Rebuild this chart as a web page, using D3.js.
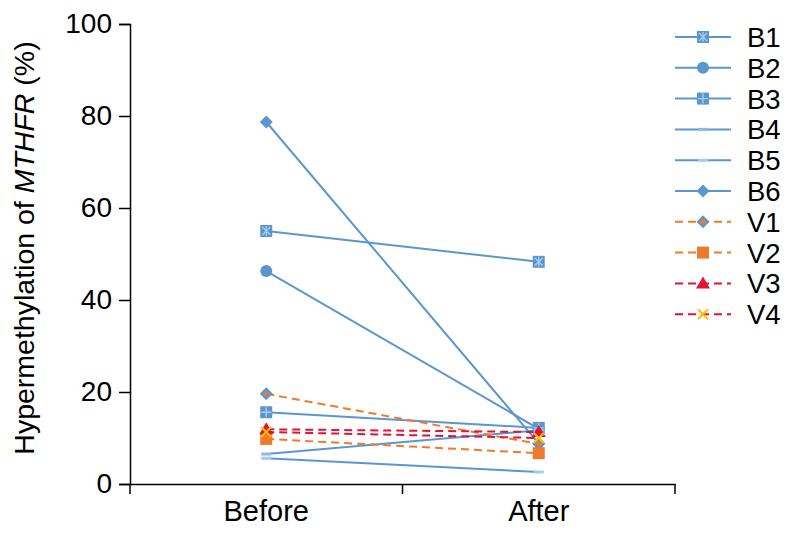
<!DOCTYPE html>
<html><head><meta charset="utf-8">
<script src="https://cdn.jsdelivr.net/npm/d3@7"></script>
<style>body{margin:0;background:#fff}svg{display:block}text{font-family:"Liberation Sans",Arial,sans-serif}</style>
</head><body><svg id="c" width="796" height="539"></svg>
<script>
const categories = ["Before", "After"];
const seriesNames = ["B1","B2","B3","B4","B5","B6","V1","V2","V3","V4"];
const beforeValues = [55.0, 46.3, 15.6, 6.5, 5.6, 78.7, 19.6, 9.8, 11.9, 11.3];
const afterValues  = [48.3, 12.0, 12.2, 11.7, 2.6, 8.8, 8.7, 6.7, 11.3, 10.0];
const yTicks = [0, 20, 40, 60, 80, 100];

const BLUE = "#5b97cf", ORANGE = "#ee7b2c", RED = "#df1436", YELLOW = "#ffc000";
const style = {
  B1:{color:BLUE, dash:null, marker:"sqx"},
  B2:{color:BLUE, dash:null, marker:"circle"},
  B3:{color:BLUE, dash:null, marker:"sqplus"},
  B4:{color:BLUE, dash:null, marker:"dash"},
  B5:{color:BLUE, dash:null, marker:"dash2"},
  B6:{color:BLUE, dash:null, marker:"diamond"},
  V1:{color:ORANGE, dash:"8,5", marker:"diamond2"},
  V2:{color:ORANGE, dash:"8,5", marker:"square"},
  V3:{color:RED, dash:"8,5", marker:"triangle"},
  V4:{color:RED, dash:"8,5", marker:"x"}
};

const svg = d3.select("#c");
const x = d3.scaleBand().domain(categories).range([130, 675]);
const y = d3.scaleLinear().domain([0, 100]).range([484, 24]);

// axes
const yAxis = svg.append("g").attr("transform","translate(130,0)")
  .call(d3.axisLeft(y).tickValues(yTicks).tickSize(11).tickPadding(7));
yAxis.selectAll("text").attr("font-size", 28).attr("fill","#000")
  .attr("font-family", '"Liberation Sans",Arial,sans-serif');
yAxis.select(".domain").attr("stroke","#000").attr("stroke-width",1.5);
yAxis.selectAll(".tick line").attr("stroke","#000").attr("stroke-width",1.5);

const xAxis = svg.append("g").attr("transform","translate(0,484)")
  .call(d3.axisBottom(x).tickSize(0).tickPadding(16).tickSizeOuter(0));
xAxis.selectAll("text").attr("font-size", 29).attr("fill","#000")
  .attr("font-family", '"Liberation Sans",Arial,sans-serif');
xAxis.select(".domain").attr("stroke","#000").attr("stroke-width",1.5);
// band separator ticks
const seps = [x.range()[0], x(categories[1]), x.range()[1]];
svg.append("g").selectAll("line").data(seps).join("line")
  .attr("x1",d=>d).attr("x2",d=>d).attr("y1",484).attr("y2",494)
  .attr("stroke","#000").attr("stroke-width",1.5);

// y label
svg.append("text").attr("transform","translate(34,248) rotate(-90)")
  .attr("text-anchor","middle").attr("font-size",28.5).attr("fill","#000")
  .call(t=>{
    t.append("tspan").text("Hypermethylation of ");
    t.append("tspan").attr("font-style","italic").text("MTHFR");
    t.append("tspan").text(" (%)");
  });

function drawMarker(g, type, cx, cy, color) {
  const s = 6;
  if (type === "sqx" || type === "sqplus" || type === "square") {
    g.append("rect").attr("x",cx-s).attr("y",cy-s).attr("width",2*s).attr("height",2*s)
      .attr("fill", type==="square"?ORANGE:color);
    if (type === "sqx") {
      const c = "#a9cdee";
      g.append("path").attr("d",`M${cx-4},${cy-4}L${cx+4},${cy+4}M${cx+4},${cy-4}L${cx-4},${cy+4}M${cx},${cy-5}L${cx},${cy+5}`)
        .attr("stroke",c).attr("stroke-width",1.3);
    }
    if (type === "sqplus") {
      g.append("path").attr("d",`M${cx-5},${cy}L${cx+5},${cy}M${cx},${cy-5}L${cx},${cy+5}`)
        .attr("stroke","#a9cdee").attr("stroke-width",1.4);
    }
  } else if (type === "circle") {
    g.append("circle").attr("cx",cx).attr("cy",cy).attr("r",6).attr("fill",color);
  } else if (type === "dash") {
    g.append("rect").attr("x",cx-5).attr("y",cy-1.5).attr("width",10).attr("height",3).attr("fill","#8dbbe6");
  } else if (type === "dash2") {
    g.append("rect").attr("x",cx-5).attr("y",cy-1.5).attr("width",10).attr("height",3).attr("fill","#a6cbee");
  } else if (type === "diamond" || type === "diamond2") {
    g.append("path").attr("d",`M${cx},${cy-6.5}L${cx+6.5},${cy}L${cx},${cy+6.5}L${cx-6.5},${cy}Z`).attr("fill",BLUE);
    if (type === "diamond2") g.append("circle").attr("cx",cx).attr("cy",cy).attr("r",2.6).attr("fill",ORANGE);
  } else if (type === "triangle") {
    g.append("path").attr("d",`M${cx},${cy-7}L${cx+7},${cy+5}L${cx-7},${cy+5}Z`).attr("fill",RED);
  } else if (type === "x") {
    g.append("path").attr("d",`M${cx-5},${cy-5}L${cx+5},${cy+5}M${cx+5},${cy-5}L${cx-5},${cy+5}`)
      .attr("stroke",YELLOW).attr("stroke-width",2);
  }
}

const cx0 = x("Before") + x.bandwidth()/2;
const cx1 = x("After") + x.bandwidth()/2;
const plot = svg.append("g");
seriesNames.forEach((name,i)=>{
  const st = style[name];
  plot.append("line").attr("x1",cx0).attr("y1",y(beforeValues[i]))
    .attr("x2",cx1).attr("y2",y(afterValues[i]))
    .attr("stroke",st.color).attr("stroke-width",2)
    .attr("stroke-dasharray",st.dash);
});
seriesNames.forEach((name,i)=>{
  const st = style[name];
  drawMarker(plot, st.marker, cx0, y(beforeValues[i]), st.color);
  drawMarker(plot, st.marker, cx1, y(afterValues[i]), st.color);
});

// legend
const leg = svg.append("g");
seriesNames.forEach((name,i)=>{
  const st = style[name];
  const ly = 37 + i*30.8;
  leg.append("line").attr("x1",675).attr("x2",731).attr("y1",ly).attr("y2",ly)
    .attr("stroke",st.color).attr("stroke-width",2).attr("stroke-dasharray",st.dash);
  drawMarker(leg, st.marker, 703, ly, st.color);
  leg.append("text").attr("x",747).attr("y",ly+10).attr("font-size",27.5).attr("fill","#000").text(name);
});
</script></body></html>
